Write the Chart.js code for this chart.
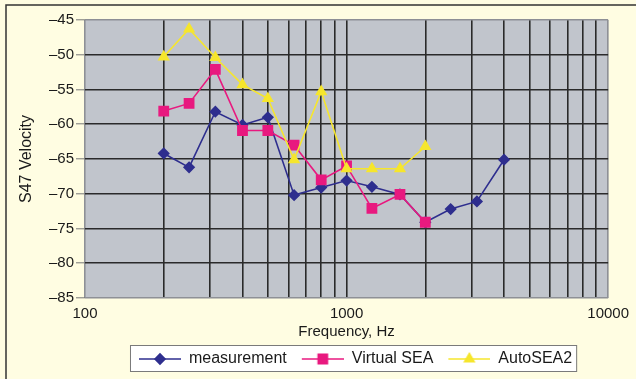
<!DOCTYPE html>
<html>
<head>
<meta charset="utf-8">
<script src="https://cdn.jsdelivr.net/npm/chart.js@4/dist/chart.umd.min.js"></script>
<style>
  html, body { margin: 0; padding: 0; background: #FFFDE2; }
  #wrap { position: relative; width: 636px; height: 379px; }
  canvas { display: block; }
</style>
</head>
<body>
<div id="wrap"><canvas id="c" width="636" height="379"></canvas></div>
<script>
// ---- data ----
const frequencies = [200, 250, 315, 400, 500, 630, 800, 1000, 1250, 1600, 2000, 2500, 3150, 4000];
const measurement = [-64.2, -66.2, -58.2, -60.1, -59.0, -70.2, -69.1, -68.1, -69.0, -70.1, -74.1, -72.2, -71.1, -65.1];
const virtualSEA  = [-58.1, -57.0, -52.1, -60.9, -60.9, -63.0, -68.0, -66.0, -72.1, -70.1, -74.1];
const autoSEA2    = [-50.3, -46.3, -50.4, -54.3, -56.3, -65.1, -55.3, -66.4, -66.4, -66.4, -63.2];
const seriesNames = ['measurement', 'Virtual SEA', 'AutoSEA2'];
const xTickValues = [100,200,300,400,500,600,700,800,900,1000,2000,3000,4000,5000,6000,7000,8000,9000,10000];
const xTickLabels = { 100: '100', 1000: '1000', 10000: '10000' };
const yMin = -85, yMax = -45, yStep = 5;

const BLUE = '#2E2E8E', PINK = '#E8197F', YELLOW = '#F6E62C';
const FONT = '"Liberation Sans", Arial, sans-serif';

function pts(vals) { return vals.map((v, i) => ({ x: frequencies[i], y: v })); }

function legendIcon(color, style, radius) {
  const W = 52, H = 16;
  const c = document.createElement('canvas');
  c.width = W; c.height = H;
  const ctx = c.getContext('2d');
  ctx.strokeStyle = color; ctx.lineWidth = 1.6;
  ctx.beginPath(); ctx.moveTo(10, H / 2); ctx.lineTo(W, H / 2); ctx.stroke();
  Chart.helpers.drawPoint(ctx, { pointStyle: style, radius: radius, borderWidth: 1 }, 10 + 21, H / 2);
  ctx.fillStyle = color; ctx.fill();
  ctx.beginPath();
  return c;
}

const LEGEND_SHIFT = 4;
const plugin = {
  id: 'decor',
  afterUpdate(chart) {
    const lg = chart.legend;
    if (lg) {
      lg.left += LEGEND_SHIFT; lg.right += LEGEND_SHIFT;
      if (lg.legendHitBoxes) lg.legendHitBoxes.forEach(h => { h.left += LEGEND_SHIFT; });
    }
  },
  beforeDraw(chart) {
    const { ctx, chartArea: a } = chart;
    ctx.save();
    ctx.strokeStyle = '#333'; ctx.lineWidth = 1.5;
    ctx.beginPath(); ctx.moveTo(6, 379); ctx.lineTo(6, 5); ctx.lineTo(636, 5); ctx.stroke();
    ctx.fillStyle = '#C1C5CC';
    ctx.fillRect(a.left, a.top, a.right - a.left, a.bottom - a.top);
    const lg = chart.legend;
    if (lg && lg.legendHitBoxes && lg.legendHitBoxes.length) {
      const hb = lg.legendHitBoxes;
      const l = Math.min(...hb.map(h => h.left)) + 1;
      const r = Math.max(...hb.map(h => h.left + h.width)) + 4;
      const t = hb[0].top - 6;
      ctx.fillStyle = '#FFFFFF';
      ctx.fillRect(l, t, r - l, 26);
      ctx.strokeStyle = '#7a7a7a'; ctx.lineWidth = 1;
      ctx.strokeRect(l + 0.5, t + 0.5, r - l, 26);
    }
    ctx.restore();
  }
};

function gridColor(ctx) {
  const n = ctx.scale.ticks.length;
  return (ctx.index === 0 || ctx.index === n - 1) ? '#8E9096' : '#2A2A2A';
}

new Chart(document.getElementById('c'), {
  type: 'line',
  data: {
    datasets: [
      { label: seriesNames[0], data: pts(measurement), borderColor: BLUE, backgroundColor: BLUE,
        pointStyle: 'rectRot', pointRadius: 5, borderWidth: 1.6, order: 2, icon: legendIcon(BLUE, 'rectRot', 5) },
      { label: seriesNames[1], data: pts(virtualSEA), borderColor: PINK, backgroundColor: PINK,
        pointStyle: 'rect', pointRadius: 6.5, borderWidth: 1.6, order: 1, icon: legendIcon(PINK, 'rect', 6.5) },
      { label: seriesNames[2], data: pts(autoSEA2), borderColor: YELLOW, backgroundColor: YELLOW,
        pointStyle: 'triangle', pointRadius: 5.5, borderWidth: 1.6, order: 0, icon: legendIcon(YELLOW, 'triangle', 5.5) }
    ]
  },
  options: {
    responsive: false,
    animation: false,
    devicePixelRatio: 1,
    layout: { padding: { left: 0, right: 24, top: 20, bottom: 2 } },
    elements: { line: { tension: 0 }, point: { borderWidth: 1, hoverRadius: 5 } },
    scales: {
      x: {
        type: 'logarithmic', min: 100, max: 10000,
        afterBuildTicks(s) { s.ticks = xTickValues.map(v => ({ value: v })); },
        afterFit(s) { s.height = 48; },
        ticks: {
          autoSkip: false, maxRotation: 0, padding: 7,
          color: '#1a1a1a', font: { family: FONT, size: 15 },
          callback: (v) => xTickLabels[v] || ''
        },
        grid: { color: gridColor, lineWidth: 1.6, drawTicks: false },
        border: { display: false },
        title: { display: true, text: 'Frequency, Hz', color: '#1a1a1a',
                 font: { family: FONT, size: 15 }, padding: { top: 0, bottom: 5 } }
      },
      y: {
        min: yMin, max: yMax,
        afterFit(s) { s.width = 85; },
        ticks: {
          stepSize: yStep, padding: 2, color: '#1a1a1a', font: { family: FONT, size: 15 },
          callback: (v) => (v < 0 ? '\u2013' + Math.abs(v) : String(v))
        },
        grid: { color: gridColor, lineWidth: 1.6, tickLength: 9, tickColor: '#777', tickWidth: 1 },
        border: { display: false },
        title: { display: true, text: 'S47 Velocity', color: '#1a1a1a',
                 font: { family: FONT, size: 16 }, padding: { top: 17, bottom: 0 } }
      }
    },
    plugins: {
      tooltip: { enabled: false },
      legend: {
        position: 'bottom', fullSize: false,
        labels: {
          usePointStyle: true, pointStyleWidth: 52, padding: 5,
          color: '#1a1a1a', font: { family: FONT, size: 16 },
          sort: (a, b) => a.datasetIndex - b.datasetIndex,
          generateLabels(chart) {
            const items = Chart.defaults.plugins.legend.labels.generateLabels(chart);
            items.forEach(it => { it.pointStyle = chart.data.datasets[it.datasetIndex].icon; it.rotation = 0; });
            return items;
          }
        }
      }
    }
  },
  plugins: [plugin]
});
</script>
</body>
</html>
